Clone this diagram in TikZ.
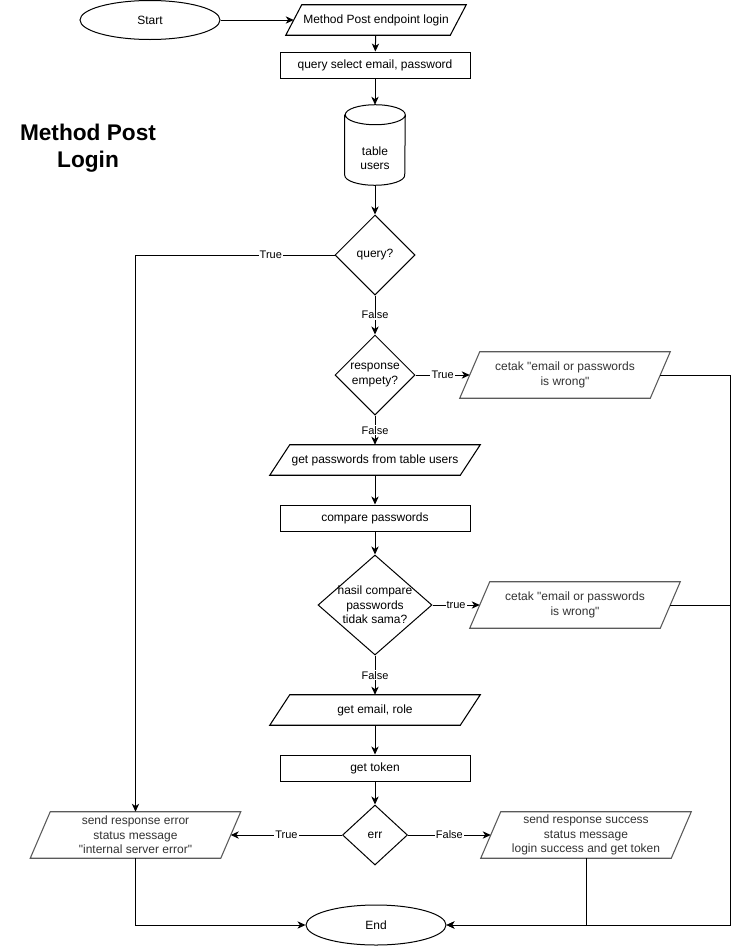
\documentclass[tikz,border=0pt]{standalone}
\usepackage{fontspec}
\setmainfont{Liberation Sans}[Ligatures=TeXOff]
\usetikzlibrary{shapes.geometric,arrows.meta,calc}
\definecolor{bordergrey}{HTML}{5A5A5A}
\definecolor{txtgrey}{HTML}{333333}
\newcommand\qq{\symbol{34}}
\newcommand\drawpara[3]{\draw[draw=#3,line width=0.8pt] ($(#1.south west)+(-#2,0)$) -- ($(#1.north west)+(#2,0)$) -- ($(#1.north east)+(#2,0)$) -- ($(#1.south east)+(-#2,0)$) -- cycle;}
\begin{document}
\begin{tikzpicture}[x=0.75pt,y=-0.75pt,
 every node/.style={font=\fontsize{9}{10.8}\selectfont, align=center, inner sep=0pt},
 proc/.style={draw, line width=0.75pt, minimum width=142.5pt, minimum height=19.5pt},
 term/.style={draw, ellipse, line width=0.75pt, minimum width=105pt, minimum height=30pt},
 dia/.style={draw, diamond, line width=0.75pt, inner sep=0pt},
 io/.style={minimum width=142.5pt, minimum height=34.5pt},
 lbl/.style={fill=white, font=\fontsize{8.25}{9}\selectfont, inner sep=0.8pt},
 conn/.style={line width=0.75pt, -{Stealth[length=6pt,width=5.5pt,inset=1.8pt]}},
 plain/.style={line width=0.75pt},
 grey/.style={text=txtgrey}
]
\fill[white] (0,0) rectangle (739,946);
\useasboundingbox (0,0) rectangle (739,946);

\node[font=\fontsize{17}{20}\selectfont\bfseries] (title) at (88,148) {Method Post\\Login};

\node[term, minimum height=29.25pt] (start) at (150,20) {Start};
\node[minimum width=123pt, minimum height=22.5pt] (mpel) at (376,20) {Method Post endpoint login};
\drawpara{mpel}{8}{black}
\node[proc] (qsel) at (375,65) {query select email, password};
\node[minimum width=45pt, minimum height=60pt] (cyl) at (375,145) {};
\draw[line width=0.75pt] ([yshift=-7.5pt]cyl.north west) -- ([yshift=7.5pt]cyl.south west)
  arc[start angle=180,end angle=360,x radius=22.5pt,y radius=7.5pt]
  -- ([yshift=-7.5pt]cyl.north east)
  arc[start angle=0,end angle=180,x radius=22.5pt,y radius=7.5pt]
  arc[start angle=180,end angle=360,x radius=22.5pt,y radius=7.5pt];
\node (cylt) at (375,158) {table\\users};

\node[dia, minimum width=60pt, minimum height=60pt] (q1) at (375,255) {};
\node (q1t) at (375,255) {query?};
\node[dia, minimum width=60pt, minimum height=60pt] (q2) at (375,375) {};
\node (q2t) at (375,375) {response\\empety?};
\node[io, grey] (c1) at (565,375) {cetak \qq email or passwords\\is wrong\qq};
\drawpara{c1}{10}{bordergrey}
\node[io, minimum height=22.5pt] (gp) at (375,460) {get passwords from table users};
\drawpara{gp}{10}{black}
\node[proc] (cmp) at (375,518) {compare passwords};
\node[dia, minimum width=85.5pt, minimum height=75pt] (q3) at (375,605) {};
\node (q3t) at (375,605) {hasil compare\\passwords\\tidak sama?};
\node[io, grey] (c2) at (575,605) {cetak \qq email or passwords\\is wrong\qq};
\drawpara{c2}{10}{bordergrey}
\node[io, minimum height=22.5pt] (ge) at (375,710) {get email, role};
\drawpara{ge}{10}{black}
\node[proc] (tok) at (375,768) {get token};
\node[dia, minimum width=48.75pt, minimum height=45pt] (err) at (375,835) {};
\node (errt) at (375,835) {err};
\node[io, grey] (se) at (135.5,835) {send response error\\status message\\\qq internal server error\qq};
\drawpara{se}{10}{bordergrey}
\node[io, grey] (so) at (586,835) {send response success\\status message\\login success and get token};
\drawpara{so}{10}{bordergrey}
\node[term] (end) at (376,925) {End};

\draw[conn] (start.east) -- (mpel.west);
\draw[conn] (mpel) -- (qsel);
\draw[conn] (qsel) -- (cyl);
\draw[conn] (cyl) -- (q1);
\draw[conn] (q1.west) -| node[lbl,pos=0.16] (l1) {True} (se.north);
\draw[conn] (q1) -- node[lbl] (l2) {False} (q2);
\draw[conn] (q2) -- node[lbl] (l3) {True} (c1.west);
\draw[conn] (q2) -- node[lbl] (l4) {False} (gp);
\draw[conn] (gp) -- (cmp);
\draw[conn] (cmp) -- (q3);
\draw[conn] (q3) -- node[lbl] (l5) {true} (c2.west);
\draw[conn] (q3) -- node[lbl] (l6) {False} (ge);
\draw[conn] (ge) -- (tok);
\draw[conn] (tok) -- (err);
\draw[conn] (err) -- node[lbl] (l7) {True} (se.east);
\draw[conn] (err) -- node[lbl] (l8) {False} (so.west);
\coordinate (rc) at (730,925);
\draw[conn] (c1.east) -| (rc) -- (end.east);
\draw[plain] (c2.east) -- (c2.east -| rc);
\draw[conn] (se.south) |- (end.west);
\draw[conn] (so.south) |- (end.east);
\end{tikzpicture}
\end{document}
